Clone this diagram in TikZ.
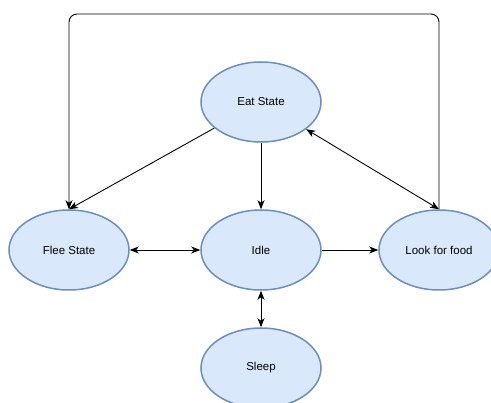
\documentclass[tikz,border=0pt]{standalone}
\usepackage{fontspec}
\setmainfont{Liberation Sans}
\usetikzlibrary{shapes.geometric}
\usetikzlibrary {arrows.meta}
\definecolor{stfill}{HTML}{DAE8FC}
\definecolor{stline}{HTML}{6C8EBF}
\tikzset{zustand/.style = {
shape=ellipse, draw=stline, fill=stfill, line width=1.5pt, inner sep=0pt,
minimum width=120pt, minimum height=80pt, font=\fontsize{11.5}{13}\selectfont
}}
\tikzset{pfeil/.style = {line width=0.9pt, -{Stealth[length=9pt,width=7pt,inset=2.5pt]}}}
\tikzset{dpfeil/.style = {pfeil, {Stealth[length=9pt,width=7pt,inset=2.5pt]}-{Stealth[length=9pt,width=7pt,inset=2.5pt]}}}

\begin{document}
\begin{tikzpicture}[x=1pt,y=-1pt]
\useasboundingbox (0,0) rectangle (491,403);
\clip (0,0) rectangle (491,403);

\node[zustand] (eat) at (261,102){Eat State};
\node[zustand] (flee) at (69,250){Flee State};
\node[zustand] (idle) at (261,250){Idle};
\node[zustand] (look) at (439,250){Look for food};
\node[zustand] (sleep) at (261,368){Sleep};

\draw [pfeil] (eat) -- (flee.north);
\draw [pfeil] (eat) -- (idle);
\draw [dpfeil] (eat) -- (look.north);
\draw [dpfeil] (flee) -- (idle);
\draw [pfeil] (idle) -- (look);
\draw [dpfeil] (idle) -- (sleep);

\draw [pfeil,rounded corners=8pt] (look.north) -- (look.north |- 0,14) -- (flee.north |- 0,14) -- (flee.north);

\end{tikzpicture}
\end{document}
